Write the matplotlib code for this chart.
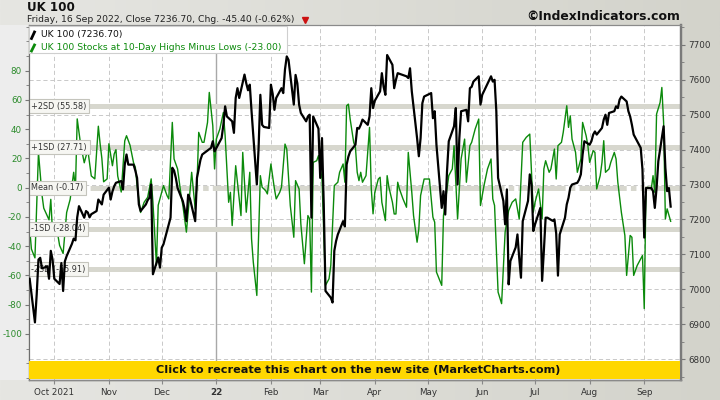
import matplotlib
matplotlib.use("Agg")
import numpy as np
import pandas as pd
import matplotlib.pyplot as plt
from matplotlib.patches import Rectangle
from matplotlib.lines import Line2D
from matplotlib.colors import LinearSegmentedColormap
from matplotlib.transforms import blended_transform_factory

plt.rcParams['font.family'] = ['DejaVu Sans']
plt.rcParams['lines.scale_dashes'] = False
plt.rcParams['axes.unicode_minus'] = False

# ---------------------------------------------------------------- data
ukx_dates = [
    "2021-09-17", "2021-09-20", "2021-09-21", "2021-09-22", "2021-09-23", "2021-09-24", "2021-09-27",
    "2021-09-28", "2021-09-29", "2021-09-30", "2021-10-01", "2021-10-04", "2021-10-05", "2021-10-06",
    "2021-10-07", "2021-10-08", "2021-10-11", "2021-10-12", "2021-10-13", "2021-10-14", "2021-10-15",
    "2021-10-18", "2021-10-19", "2021-10-20", "2021-10-21", "2021-10-22", "2021-10-25", "2021-10-26",
    "2021-10-27", "2021-10-28", "2021-10-29", "2021-11-01", "2021-11-02", "2021-11-03", "2021-11-04",
    "2021-11-05", "2021-11-08", "2021-11-09", "2021-11-10", "2021-11-11", "2021-11-12", "2021-11-15",
    "2021-11-16", "2021-11-17", "2021-11-18", "2021-11-19", "2021-11-22", "2021-11-23", "2021-11-24",
    "2021-11-25", "2021-11-26", "2021-11-29", "2021-11-30", "2021-12-01", "2021-12-02", "2021-12-03",
    "2021-12-06", "2021-12-07", "2021-12-08", "2021-12-09", "2021-12-10", "2021-12-13", "2021-12-14",
    "2021-12-15", "2021-12-16", "2021-12-17", "2021-12-20", "2021-12-21", "2021-12-22", "2021-12-23",
    "2021-12-24", "2021-12-29", "2021-12-30", "2021-12-31", "2022-01-04", "2022-01-05", "2022-01-06",
    "2022-01-07", "2022-01-10", "2022-01-11", "2022-01-12", "2022-01-13", "2022-01-14", "2022-01-17",
    "2022-01-18", "2022-01-19", "2022-01-20", "2022-01-21", "2022-01-24", "2022-01-25", "2022-01-26",
    "2022-01-27", "2022-01-28", "2022-01-31", "2022-02-01", "2022-02-02", "2022-02-03", "2022-02-04",
    "2022-02-07", "2022-02-08", "2022-02-09", "2022-02-10", "2022-02-11", "2022-02-14", "2022-02-15",
    "2022-02-16", "2022-02-17", "2022-02-18", "2022-02-21", "2022-02-22", "2022-02-23", "2022-02-24",
    "2022-02-25", "2022-02-28", "2022-03-01", "2022-03-02", "2022-03-03", "2022-03-04", "2022-03-07",
    "2022-03-08", "2022-03-09", "2022-03-10", "2022-03-11", "2022-03-14", "2022-03-15", "2022-03-16",
    "2022-03-17", "2022-03-18", "2022-03-21", "2022-03-22", "2022-03-23", "2022-03-24", "2022-03-25",
    "2022-03-28", "2022-03-29", "2022-03-30", "2022-03-31", "2022-04-01", "2022-04-04", "2022-04-05",
    "2022-04-06", "2022-04-07", "2022-04-08", "2022-04-11", "2022-04-12", "2022-04-13", "2022-04-14",
    "2022-04-19", "2022-04-20", "2022-04-21", "2022-04-22", "2022-04-25", "2022-04-26", "2022-04-27",
    "2022-04-28", "2022-04-29", "2022-05-03", "2022-05-04", "2022-05-05", "2022-05-06", "2022-05-09",
    "2022-05-10", "2022-05-11", "2022-05-12", "2022-05-13", "2022-05-16", "2022-05-17", "2022-05-18",
    "2022-05-19", "2022-05-20", "2022-05-23", "2022-05-24", "2022-05-25", "2022-05-26", "2022-05-27",
    "2022-05-30", "2022-05-31", "2022-06-01", "2022-06-06", "2022-06-07", "2022-06-08", "2022-06-09",
    "2022-06-10", "2022-06-13", "2022-06-14", "2022-06-15", "2022-06-16", "2022-06-17", "2022-06-20",
    "2022-06-21", "2022-06-22", "2022-06-23", "2022-06-24", "2022-06-27", "2022-06-28", "2022-06-29",
    "2022-06-30", "2022-07-01", "2022-07-04", "2022-07-05", "2022-07-06", "2022-07-07", "2022-07-08",
    "2022-07-11", "2022-07-12", "2022-07-13", "2022-07-14", "2022-07-15", "2022-07-18", "2022-07-19",
    "2022-07-20", "2022-07-21", "2022-07-22", "2022-07-25", "2022-07-26", "2022-07-27", "2022-07-28",
    "2022-07-29", "2022-08-01", "2022-08-02", "2022-08-03", "2022-08-04", "2022-08-05", "2022-08-08",
    "2022-08-09", "2022-08-10", "2022-08-11", "2022-08-12", "2022-08-15", "2022-08-16", "2022-08-17",
    "2022-08-18", "2022-08-19", "2022-08-22", "2022-08-23", "2022-08-24", "2022-08-25", "2022-08-26",
    "2022-08-30", "2022-08-31", "2022-09-01", "2022-09-02", "2022-09-05", "2022-09-06", "2022-09-07",
    "2022-09-08", "2022-09-09", "2022-09-12", "2022-09-13", "2022-09-14", "2022-09-15", "2022-09-16",
]
ukx_close = [
    7030, 6905, 6985, 7085, 7090, 7060, 7065,
    7030, 7110, 7085, 7030, 7015, 7075, 6995,
    7080, 7095, 7130, 7145, 7140, 7206, 7238,
    7205, 7224, 7220, 7206, 7215, 7224, 7257,
    7250, 7243, 7271, 7291, 7257, 7280, 7295,
    7305, 7310, 7286, 7357, 7386, 7357, 7357,
    7340, 7319, 7243, 7224, 7243, 7255, 7262,
    7300, 7043, 7091, 7062, 7119, 7129, 7148,
    7205, 7348, 7340, 7319, 7290, 7252, 7230,
    7195, 7271, 7260, 7195, 7319, 7345, 7371,
    7386, 7405, 7424, 7395, 7433, 7471, 7524,
    7495, 7481, 7448, 7548, 7576, 7548, 7615,
    7590, 7570, 7586, 7510, 7300, 7405, 7557,
    7471, 7465, 7462, 7586, 7560, 7514, 7548,
    7576, 7562, 7630, 7667, 7657, 7529, 7614,
    7590, 7529, 7505, 7481, 7495, 7500, 7205,
    7495, 7460, 7319, 7433, 7243, 6995, 6976,
    6962, 7110, 7138, 7157, 7195, 7180, 7357,
    7380, 7395, 7414, 7462, 7460, 7471, 7486,
    7471, 7495, 7576, 7519, 7540, 7567, 7619,
    7580, 7557, 7671, 7643, 7576, 7600, 7619,
    7610, 7605, 7633, 7567, 7433, 7381, 7433,
    7533, 7552, 7562, 7490, 7510, 7414, 7233,
    7281, 7214, 7338, 7424, 7467, 7519, 7300,
    7433, 7510, 7514, 7481, 7576, 7580, 7595,
    7610, 7529, 7557, 7610, 7595, 7600, 7510,
    7319, 7253, 7186, 7286, 7014, 7081, 7120,
    7157, 7090, 7033, 7195, 7253, 7329, 7300,
    7167, 7186, 7233, 7024, 7110, 7205, 7205,
    7196, 7200, 7160, 7039, 7157, 7205, 7243,
    7262, 7291, 7300, 7305, 7314, 7329, 7386,
    7424, 7414, 7424, 7443, 7452, 7443, 7462,
    7486, 7500, 7471, 7505, 7510, 7524, 7519,
    7543, 7552, 7538, 7510, 7495, 7471, 7443,
    7405, 7343, 7148, 7290, 7290, 7281, 7233,
    7290, 7367, 7467, 7348, 7281, 7290, 7236.70,
]

hl_dates = [
    "2021-09-17", "2021-09-18", "2021-09-20", "2021-09-22", "2021-09-24", "2021-09-25", "2021-09-28",
    "2021-09-29", "2021-09-30", "2021-10-01", "2021-10-02", "2021-10-04", "2021-10-06", "2021-10-08",
    "2021-10-10", "2021-10-12", "2021-10-13", "2021-10-14", "2021-10-16", "2021-10-18", "2021-10-20",
    "2021-10-22", "2021-10-24", "2021-10-26", "2021-10-27", "2021-10-28", "2021-10-29", "2021-10-31",
    "2021-11-01", "2021-11-03", "2021-11-04", "2021-11-05", "2021-11-06", "2021-11-08", "2021-11-10",
    "2021-11-11", "2021-11-13", "2021-11-15", "2021-11-16", "2021-11-17", "2021-11-19", "2021-11-21",
    "2021-11-23", "2021-11-25", "2021-11-26", "2021-11-28", "2021-11-29", "2021-12-01", "2021-12-02",
    "2021-12-04", "2021-12-05", "2021-12-07", "2021-12-08", "2021-12-10", "2021-12-12", "2021-12-13",
    "2021-12-15", "2021-12-17", "2021-12-18", "2021-12-20", "2021-12-21", "2021-12-22", "2021-12-24",
    "2021-12-25", "2021-12-27", "2021-12-28", "2021-12-30", "2021-12-31", "2022-01-01", "2022-01-03",
    "2022-01-05", "2022-01-06", "2022-01-08", "2022-01-09", "2022-01-10", "2022-01-12", "2022-01-13",
    "2022-01-15", "2022-01-16", "2022-01-18", "2022-01-20", "2022-01-21", "2022-01-22", "2022-01-24",
    "2022-01-26", "2022-01-27", "2022-01-29", "2022-01-30", "2022-02-01", "2022-02-03", "2022-02-04",
    "2022-02-06", "2022-02-07", "2022-02-09", "2022-02-10", "2022-02-12", "2022-02-14", "2022-02-15",
    "2022-02-17", "2022-02-18", "2022-02-20", "2022-02-22", "2022-02-23", "2022-02-24", "2022-02-25",
    "2022-02-27", "2022-02-28", "2022-03-02", "2022-03-04", "2022-03-06", "2022-03-07", "2022-03-08",
    "2022-03-09", "2022-03-11", "2022-03-12", "2022-03-14", "2022-03-15", "2022-03-16", "2022-03-17",
    "2022-03-18", "2022-03-20", "2022-03-21", "2022-03-22", "2022-03-23", "2022-03-24", "2022-03-25",
    "2022-03-26", "2022-03-27", "2022-03-29", "2022-03-30", "2022-03-31", "2022-04-01", "2022-04-03",
    "2022-04-04", "2022-04-05", "2022-04-07", "2022-04-08", "2022-04-09", "2022-04-11", "2022-04-12",
    "2022-04-13", "2022-04-14", "2022-04-15", "2022-04-17", "2022-04-19", "2022-04-20", "2022-04-22",
    "2022-04-23", "2022-04-25", "2022-04-26", "2022-04-27", "2022-04-29", "2022-05-01", "2022-05-02",
    "2022-05-04", "2022-05-05", "2022-05-06", "2022-05-09", "2022-05-10", "2022-05-11", "2022-05-13",
    "2022-05-15", "2022-05-16", "2022-05-18", "2022-05-20", "2022-05-22", "2022-05-23", "2022-05-25",
    "2022-05-26", "2022-05-28", "2022-05-30", "2022-05-31", "2022-06-02", "2022-06-04", "2022-06-06",
    "2022-06-07", "2022-06-08", "2022-06-10", "2022-06-12", "2022-06-14", "2022-06-16", "2022-06-18",
    "2022-06-20", "2022-06-22", "2022-06-24", "2022-06-26", "2022-06-28", "2022-06-29", "2022-06-30",
    "2022-07-01", "2022-07-03", "2022-07-05", "2022-07-06", "2022-07-07", "2022-07-09", "2022-07-10",
    "2022-07-12", "2022-07-13", "2022-07-14", "2022-07-16", "2022-07-17", "2022-07-19", "2022-07-20",
    "2022-07-21", "2022-07-22", "2022-07-24", "2022-07-25", "2022-07-27", "2022-07-28", "2022-07-30",
    "2022-07-31", "2022-08-01", "2022-08-03", "2022-08-04", "2022-08-05", "2022-08-07", "2022-08-08",
    "2022-08-09", "2022-08-10", "2022-08-12", "2022-08-13", "2022-08-15", "2022-08-16", "2022-08-17",
    "2022-08-19", "2022-08-21", "2022-08-22", "2022-08-24", "2022-08-25", "2022-08-26", "2022-08-28",
    "2022-08-30", "2022-08-31", "2022-09-01", "2022-09-02", "2022-09-03", "2022-09-05", "2022-09-06",
    "2022-09-07", "2022-09-08", "2022-09-10", "2022-09-11", "2022-09-12", "2022-09-13", "2022-09-14",
    "2022-09-16",
]
hl_values = [
    -28, -42, -48, 24, -5, -14, -22,
    -8, -31, -30, -25, -39.5, -45, -17,
    -8, 10.5, -1, 47, 29, 17, 26,
    8, 6, 42, 30, 20, 4, 6,
    30, 15, 23, 26, 8, -3, 32,
    35.5, 29, 17, 14, 1.4, -17, -10,
    -6.6, 6, -10, -53, -12, -3, 1.4,
    -5.4, -7.7, 44.6, 19.6, 12.8, -5.4, -12.2,
    -30.4, -3.2, 10.5, -14.5, 1.4, 37.8, 31,
    31, 44.6, 65.1, 42.3, 12.8, 33.2, 40.1,
    51.4, 35.5, -10, -3.2, -25.9, 15, 3.7,
    -19.1, 24.1, -16.8, 10.5, -35, -51, -73.7,
    8.2, 0.3, -2, -4.3, 16.2, -0.9, -7.7,
    -3.2, 0.3, 29.8, 26.4, -12.2, -33.9, 4.8,
    -0.9, -24.8, -52, -19.1, -21.4, -71.4, 17.3,
    18.4, 21.9, 5.9, -66.8, -62.3, -53.2, -25.9,
    1.4, 3.7, 10.5, 16.2, 3.7, 56, 57.1,
    46.9, 31, 27.5, 10.5, 4.8, 10.5, 3.7,
    5.9, 8.2, 41.2, -0.9, -17.9, -3.2, 5.9,
    7.1, -10, -22.5, 8.2, 0.3, -10, -18,
    -18, 3.7, -0.9, -7.7, -13.4, 24.1, -3.2,
    -19.1, -37.3, -28.2, -5.4, 5.9, 5.9, 5.9,
    -20.2, -23.6, -57.7, -66.8, -19.1, -10, 8.2,
    12.8, 28.7, -21.4, 19.6, 33.2, 3.7, 28.7,
    31, 40.1, 46.9, -12.2, 1.4, 12.8, 19.6,
    -7.7, -12.2, -71.4, -79.3, -30.4, -15.7, -10,
    -7.7, -21.4, 31, 34.4, 36.6, 10.5, -16.8,
    -10, -0.9, -21.4, 12.8, 18.4, 10.5, 12.8,
    26.4, 5.9, 28.7, 31, 37.8, 56, 41.2,
    49.1, 33.2, 24.1, 10.5, 19.6, 44.6, 35.5,
    28.7, 17.3, 25.3, 24.1, -0.9, 8.2, 17.3,
    32.1, 10.5, 12.8, 17.3, 24.1, 19.6, 3.7,
    -16.8, -32.7, -60, -32.7, -33.9, -60, -53.2,
    -48.6, -46.4, -82.7, -0.9, 0.3, -0.9, 8.2,
    -3.2, 50.3, 58.2, 68.5, 44.6, -21.4, -14.5,
    -23.0,
]

sd_levels = [55.58, 27.71, -0.17, -28.04, -55.91]
sd_labels = ["+2SD (55.58)", "+1SD (27.71)", "Mean (-0.17)", "-1SD (-28.04)", "-2SD (-55.91)"]

month_ticks = ["2021-10-01", "2021-11-01", "2021-12-01", "2022-01-01", "2022-02-01", "2022-03-01",
               "2022-04-01", "2022-05-01", "2022-06-01", "2022-07-01", "2022-08-01", "2022-09-01"]
month_labels = ["Oct 2021", "Nov", "Dec", "22", "Feb", "Mar", "Apr", "May", "Jun", "Jul", "Aug", "Sep"]

left_ticks = [-100, -80, -60, -40, -20, 0, 20, 40, 60, 80]
right_ticks = [6800, 6900, 7000, 7100, 7200, 7300, 7400, 7500, 7600, 7700]

# ---------------------------------------------------------------- figure
W, H = 720, 400
fig = plt.figure(figsize=(W / 100, H / 100), dpi=100)


def fx(px):
    return px / W


def fy(py):
    return 1 - py / H


# background: light grey gradient, lighter strip behind the left axis
bg = fig.add_axes([0, 0, 1, 1], zorder=-10)
grad = np.linspace(0, 1, 256)[None, :]
bg_cmap = LinearSegmentedColormap.from_list("bg", ["#e6e6e2", "#d3d3cb"])
bg.imshow(grad, aspect="auto", cmap=bg_cmap, extent=[0, 1, 0, 1])
bg.add_patch(Rectangle((0, fy(380)), fx(28), fy(25) - fy(380), color="#ededed", lw=0))
bg.set_xlim(0, 1)
bg.set_ylim(0, 1)
bg.axis("off")

plot_l, plot_r, plot_t, plot_b = 29, 681, 25, 380
ax = fig.add_axes([fx(plot_l), fy(plot_b), fx(plot_r - plot_l), fy(plot_t) - fy(plot_b)])
axr = ax.twinx()

ax.set_xlim(pd.Timestamp("2021-09-16 15:00"), pd.Timestamp("2022-09-21 21:00"))
ax.set_ylim(-131.5, 111.2)
axr.set_ylim(6740, 7757)

# grid: dashed verticals at month starts, solid at the year change
grid_kw = dict(color="#c9c9c9", lw=0.7, ls=(0, (3, 2)))
for d, lab in zip(month_ticks, month_labels):
    if lab == "22":
        ax.axvline(pd.Timestamp(d), color="#a8a8a8", lw=1.0, zorder=1)
    else:
        ax.axvline(pd.Timestamp(d), zorder=1, **grid_kw)
# horizontal grid follows the right (price) axis
htrans = blended_transform_factory(ax.transAxes, axr.transData)
for v in right_ticks:
    ax.add_line(Line2D([0, 1], [v, v], transform=htrans, zorder=1, **grid_kw))

# SD bands (left axis scale)
band_col = "#d7d7ce"
for lvl, lab in zip(sd_levels, sd_labels):
    if lab.startswith("Mean"):
        ax.axhline(lvl, color=band_col, lw=3.6, ls=(0, (34, 3, 4, 3)), zorder=2)
    else:
        ax.axhline(lvl, color=band_col, lw=3.6, zorder=2)
    ax.text(pd.Timestamp("2021-09-18 00:00"), lvl, lab, fontsize=5.9, color="#333333",
            va="center", ha="left", zorder=6,
            bbox=dict(boxstyle="square,pad=0.3", fc="#f6f6f2", ec="#c4c4bc", lw=0.8))

# series
ax.plot(pd.to_datetime(hl_dates), hl_values, color="#0b8a0b", lw=1.0, zorder=4)
axr.plot(pd.to_datetime(ukx_dates), ukx_close, color="black", lw=1.6, zorder=4,
         solid_joinstyle="round")

# ticks
ax.set_yticks(left_ticks)
ax.set_yticks(np.arange(-130, 111, 10), minor=True)
ax.tick_params(axis="y", which="both", direction="out", colors="#777777", labelcolor="#2a8a2a",
               labelsize=6.3, pad=2)
ax.tick_params(axis="y", which="major", length=3)
ax.tick_params(axis="y", which="minor", length=2)
axr.set_yticks(right_ticks)
axr.set_yticks(np.arange(6750, 7757, 50), minor=True)
axr.tick_params(axis="y", which="both", direction="out", colors="#777777", labelcolor="#333333",
                labelsize=6.3, pad=2)
axr.tick_params(axis="y", which="major", length=3)
axr.tick_params(axis="y", which="minor", length=2)

ax.set_xticks(pd.to_datetime(month_ticks))
ax.set_xticklabels(month_labels)
ax.tick_params(axis="x", direction="out", length=3, colors="#888888", labelcolor="#333333",
               labelsize=6.3, pad=3)
for t in ax.get_xticklabels():
    if t.get_text() == "22":
        t.set_fontweight("bold")

for a in (ax, axr):
    a.spines["left"].set_color("#6e6e6e")
    a.spines["top"].set_color("#8a8a8a")
    a.spines["bottom"].set_color("#8a8a8a")
    a.spines["right"].set_color("#7a7a7a")
    a.spines["right"].set_linewidth(1.6)
    a.spines["top"].set_linewidth(0.8)
    a.spines["bottom"].set_linewidth(1.0)

# legend box
fig.patches.append(Rectangle((fx(29), fy(53)), fx(258), fy(26) - fy(53), transform=fig.transFigure,
                             fc="white", ec="#cfcfcf", lw=0.8, zorder=5))
fig.lines.append(Line2D([fx(31.5), fx(34.5)], [fy(38.5), fy(32)], transform=fig.transFigure,
                        color="black", lw=2.0, zorder=6))
fig.lines.append(Line2D([fx(31.5), fx(34.5)], [fy(51), fy(45)], transform=fig.transFigure,
                        color="#0b8a0b", lw=2.0, zorder=6))
fig.text(fx(41), fy(34.5), "UK 100 (7236.70)", fontsize=6.7, color="#111111", va="center", ha="left",
         zorder=7)
fig.text(fx(41), fy(47), "UK 100 Stocks at 10-Day Highs Minus Lows (-23.00)", fontsize=6.7,
         color="#0b8a0b", va="center", ha="left", zorder=7)

# yellow banner
fig.patches.append(Rectangle((fx(29), fy(379)), fx(651), fy(361) - fy(379), transform=fig.transFigure,
                             fc="#ffd700", ec="none", zorder=8))
fig.text(fx(358), fy(370), "Click to recreate this chart on the new site (MarketCharts.com)",
         fontsize=8.15, fontweight="bold", color="#111111", ha="center", va="center", zorder=9)

# header
fig.text(fx(27), fy(7.5), "UK 100", fontsize=8.6, fontweight="bold", color="#111111",
         ha="left", va="center")
fig.text(fx(27), fy(19.5), "Friday, 16 Sep 2022, Close 7236.70, Chg. -45.40 (-0.62%)", fontsize=6.7,
         color="#222222", ha="left", va="center")
fig.lines.append(Line2D([fx(305)], [fy(19.5)], transform=fig.transFigure, marker="v", ms=4.5,
                        color="#cc1111", ls="none"))
fig.text(fx(680), fy(16.5), "\u00a9IndexIndicators.com", fontsize=8.9, fontweight="bold",
         color="#111111", ha="right", va="center")

fig.savefig("out.png", dpi=100, facecolor=fig.get_facecolor())
